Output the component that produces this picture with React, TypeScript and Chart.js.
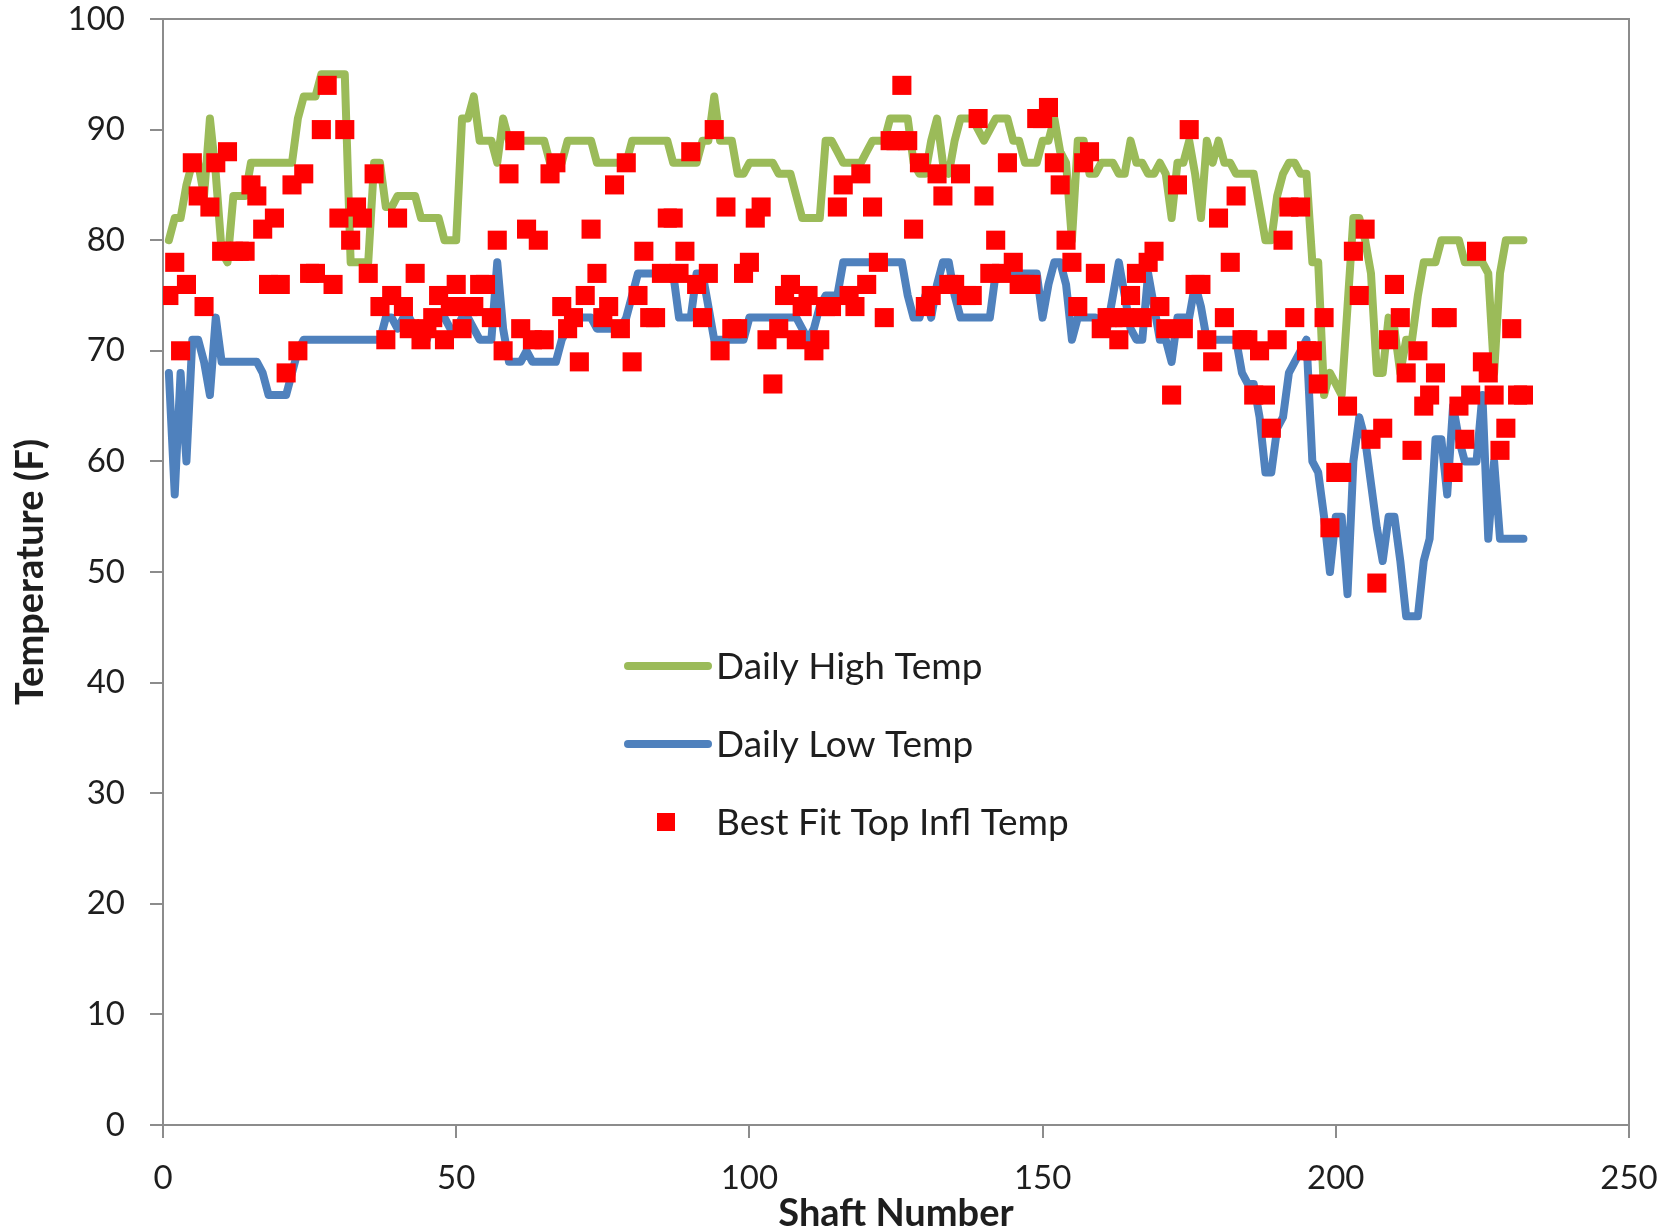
import React, { useEffect, useRef } from "react";
import { Chart, registerables } from "chart.js";

Chart.register(...registerables);

// Daily high temperature per shaft (shafts 1..232)
const highTemps = [
  80, 82, 82, 85, 87, 87, 84, 91, 86, 79,
  78, 84, 84, 84, 87, 87, 87, 87, 87, 87,
  87, 87, 91, 93, 93, 93, 95, 95, 95, 95,
  95, 78, 78, 78, 78, 87, 87, 83, 83, 84,
  84, 84, 84, 82, 82, 82, 82, 80, 80, 80,
  91, 91, 93, 89, 89, 89, 87, 91, 89, 89,
  89, 89, 89, 89, 89, 87, 87, 87, 89, 89,
  89, 89, 89, 87, 87, 87, 87, 87, 87, 89,
  89, 89, 89, 89, 89, 89, 87, 87, 87, 87,
  87, 89, 89, 93, 89, 89, 89, 86, 86, 87,
  87, 87, 87, 87, 86, 86, 86, 84, 82, 82,
  82, 82, 89, 89, 88, 87, 87, 87, 87, 88,
  89, 89, 89, 91, 91, 91, 91, 87, 86, 86,
  89, 91, 87, 86, 89, 91, 91, 91, 90, 89,
  90, 91, 91, 91, 89, 89, 87, 87, 87, 89,
  89, 91, 88, 87, 80, 89, 89, 86, 86, 87,
  87, 87, 86, 86, 89, 87, 87, 86, 86, 87,
  86, 82, 87, 87, 89, 86, 82, 89, 87, 89,
  87, 87, 86, 86, 86, 86, 83, 80, 80, 84,
  86, 87, 87, 86, 86, 78, 78, 66, 68, 67,
  66, 74, 82, 82, 80, 77, 68, 68, 73, 72,
  68, 71, 71, 75, 78, 78, 78, 80, 80, 80,
  80, 78, 78, 78, 78, 77, 68, 77, 80, 80,
  80, 80,
];

// Daily low temperature per shaft
const lowTemps = [
  68, 57, 68, 60, 71, 71, 69, 66, 73, 69,
  69, 69, 69, 69, 69, 69, 68, 66, 66, 66,
  66, 68, 70, 71, 71, 71, 71, 71, 71, 71,
  71, 71, 71, 71, 71, 71, 71, 73, 73, 72,
  73, 73, 72, 72, 71, 73, 73, 73, 72, 72,
  73, 73, 72, 71, 71, 71, 78, 72, 69, 69,
  69, 70, 69, 69, 69, 69, 69, 71, 72, 73,
  73, 73, 73, 72, 72, 72, 72, 72, 73, 75,
  77, 77, 77, 77, 77, 77, 77, 73, 73, 73,
  77, 77, 74, 71, 71, 71, 71, 71, 71, 73,
  73, 73, 73, 73, 73, 73, 73, 73, 72, 71,
  72, 74, 75, 75, 75, 78, 78, 78, 78, 78,
  78, 78, 78, 78, 78, 78, 75, 73, 73, 75,
  73, 76, 78, 78, 75, 73, 73, 73, 73, 73,
  73, 77, 77, 77, 77, 77, 77, 77, 77, 73,
  76, 78, 78, 76, 71, 73, 73, 73, 73, 72,
  72, 75, 78, 75, 72, 71, 71, 77, 74, 71,
  71, 69, 73, 73, 73, 76, 74, 71, 71, 71,
  71, 71, 71, 68, 67, 67, 64, 59, 59, 63,
  64, 68, 69, 70, 71, 60, 59, 55, 50, 55,
  55, 48, 60, 64, 62, 58, 54, 51, 55, 55,
  51, 46, 46, 46, 51, 53, 62, 62, 57, 65,
  62, 60, 60, 60, 66, 53, 60, 53, 53, 53,
  53, 53,
];

// Best fit top inflection temperature per shaft
const bestFitTemps = [
  75, 78, 70, 76, 87, 84, 74, 83, 87, 79,
  88, 79, 79, 79, 85, 84, 81, 76, 82, 76,
  68, 85, 70, 86, 77, 77, 90, 94, 76, 82,
  90, 80, 83, 82, 77, 86, 74, 71, 75, 82,
  74, 72, 77, 71, 72, 73, 75, 71, 74, 76,
  72, 74, 74, 76, 76, 73, 80, 70, 86, 89,
  72, 81, 71, 80, 71, 86, 87, 74, 72, 73,
  69, 75, 81, 77, 73, 74, 85, 72, 87, 69,
  75, 79, 73, 73, 77, 82, 82, 77, 79, 88,
  76, 73, 77, 90, 70, 83, 72, 72, 77, 78,
  82, 83, 71, 67, 72, 75, 76, 71, 74, 75,
  70, 71, 74, 74, 83, 85, 75, 74, 86, 76,
  83, 78, 73, 89, 89, 94, 89, 81, 87, 74,
  75, 86, 84, 76, 76, 86, 75, 75, 91, 84,
  77, 80, 77, 87, 78, 76, 76, 76, 91, 91,
  92, 87, 85, 80, 78, 74, 87, 88, 77, 72,
  73, 73, 71, 73, 75, 77, 73, 78, 79, 74,
  72, 66, 85, 72, 90, 76, 76, 71, 69, 82,
  73, 78, 84, 71, 71, 66, 70, 66, 63, 71,
  80, 83, 73, 83, 70, 70, 67, 73, 54, 59,
  59, 65, 79, 75, 81, 62, 49, 63, 71, 76,
  73, 68, 61, 70, 65, 66, 68, 73, 73, 59,
  65, 62, 66, 79, 69, 68, 66, 61, 63, 72,
  66, 66,
];

const shaftNumbers = highTemps.map((_, i) => i + 1);

const seriesNames = ["Daily High Temp", "Daily Low Temp", "Best Fit Top Infl Temp"];
const xAxisTitle = "Shaft Number";
const yAxisTitle = "Temperature (F)";

const COLOR_HIGH = "#9BBB59";
const COLOR_LOW = "#4F81BD";
const COLOR_FIT = "#FF0000";
const AXIS_GREY = "#8C8C8C";
const TEXT = "#1E1E1E";
const FONT = "Lato, 'Open Sans', sans-serif";

const W = 1679;
const H = 1232;

const plotBorder = {
  id: "plotBorder",
  beforeDatasetsDraw(chart: any) {
    const { ctx, chartArea } = chart;
    ctx.save();
    ctx.strokeStyle = AXIS_GREY;
    ctx.lineWidth = 2;
    ctx.strokeRect(chartArea.left, chartArea.top, chartArea.right - chartArea.left, chartArea.bottom - chartArea.top);
    ctx.restore();
  },
};

const inPlotLegend = {
  id: "inPlotLegend",
  afterDraw(chart: any) {
    const { ctx } = chart;
    const rows = [
      { label: seriesNames[0], color: COLOR_HIGH, kind: "line", y: 666 },
      { label: seriesNames[1], color: COLOR_LOW, kind: "line", y: 744 },
      { label: seriesNames[2], color: COLOR_FIT, kind: "rect", y: 822 },
    ];
    ctx.save();
    ctx.font = `37px ${FONT}`;
    ctx.textBaseline = "middle";
    ctx.textAlign = "left";
    rows.forEach((r) => {
      if (r.kind === "line") {
        ctx.strokeStyle = r.color;
        ctx.lineWidth = 8;
        ctx.lineCap = "round";
        ctx.beginPath();
        ctx.moveTo(628, r.y);
        ctx.lineTo(708, r.y);
        ctx.stroke();
      } else {
        ctx.fillStyle = r.color;
        ctx.fillRect(666 - 9, r.y - 9, 18, 18);
      }
      ctx.fillStyle = TEXT;
      ctx.fillText(r.label, 716, r.y + 1);
    });
    ctx.restore();
  },
};

export default function App() {
  const canvasRef = useRef<HTMLCanvasElement | null>(null);

  useEffect(() => {
    const canvas = canvasRef.current;
    if (!canvas) return;
    const toPoints = (arr: number[]) => arr.map((v, i) => ({ x: shaftNumbers[i], y: v }));

    const chart = new Chart(canvas, {
      type: "scatter",
      data: {
        datasets: [
          {
            label: seriesNames[2],
            data: toPoints(bestFitTemps),
            showLine: false,
            pointStyle: "rect",
            pointRadius: 13.5,
            pointHoverRadius: 13.5,
            backgroundColor: COLOR_FIT,
            borderWidth: 0,
            order: 0,
          },
          {
            label: seriesNames[1],
            data: toPoints(lowTemps),
            showLine: true,
            borderColor: COLOR_LOW,
            backgroundColor: COLOR_LOW,
            borderWidth: 8,
            pointRadius: 0,
            tension: 0,
            borderJoinStyle: "round",
            borderCapStyle: "round",
            order: 1,
          },
          {
            label: seriesNames[0],
            data: toPoints(highTemps),
            showLine: true,
            borderColor: COLOR_HIGH,
            backgroundColor: COLOR_HIGH,
            borderWidth: 8,
            pointRadius: 0,
            tension: 0,
            borderJoinStyle: "round",
            borderCapStyle: "round",
            order: 2,
          },
        ],
      },
      options: {
        animation: false,
        responsive: false,
        devicePixelRatio: 1,
        events: [],
        layout: { padding: { top: 19, right: 50, left: 0, bottom: 0 } },
        plugins: {
          legend: { display: false },
          tooltip: { enabled: false },
        },
        scales: {
          x: {
            type: "linear",
            min: 0,
            max: 250,
            afterFit: (s: any) => {
              s.height = H - 1125;
              s.paddingLeft = 0;
              s.paddingRight = 0;
            },
            ticks: {
              stepSize: 50,
              padding: 24,
              color: TEXT,
              font: { family: FONT, size: 33, lineHeight: 1 },
              maxRotation: 0,
            },
            grid: {
              display: true,
              drawOnChartArea: false,
              drawTicks: true,
              tickLength: 13,
              color: AXIS_GREY,
              lineWidth: 2,
            },
            border: { display: true, color: AXIS_GREY, width: 2 },
            title: {
              display: true,
              text: xAxisTitle,
              color: TEXT,
              font: { family: FONT, size: 38, weight: "bold", lineHeight: 1 },
              padding: { top: 0, bottom: -1 },
            },
          },
          y: {
            type: "linear",
            min: 0,
            max: 100,
            afterFit: (s: any) => {
              s.width = 163;
              s.paddingTop = 0;
              s.paddingBottom = 0;
            },
            ticks: {
              stepSize: 10,
              padding: 25,
              color: TEXT,
              font: { family: FONT, size: 33, lineHeight: 1 },
            },
            grid: {
              display: true,
              drawOnChartArea: false,
              drawTicks: true,
              tickLength: 13,
              color: AXIS_GREY,
              lineWidth: 2,
            },
            border: { display: true, color: AXIS_GREY, width: 2 },
            title: {
              display: true,
              text: yAxisTitle,
              color: TEXT,
              font: { family: FONT, size: 38, weight: "bold", lineHeight: 1 },
              padding: { top: 12, bottom: 0 },
            },
          },
        },
      },
      plugins: [plotBorder, inPlotLegend],
    } as any);

    return () => {
      chart.destroy();
    };
  }, []);

  return (
    <div style={{ position: "absolute", left: 0, top: 0, width: W, height: H, background: "#fff" }}>
      <canvas ref={canvasRef} width={W} height={H} style={{ display: "block", width: W, height: H }} />
    </div>
  );
}
